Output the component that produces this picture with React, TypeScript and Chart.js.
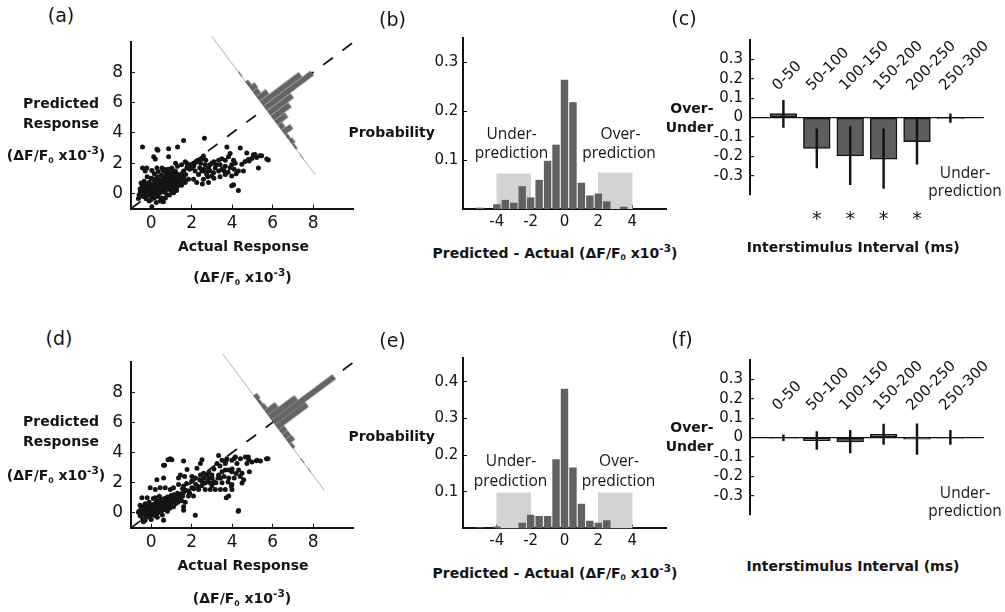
import React, { useEffect, useRef } from 'react';
import { Chart, registerables } from 'chart.js';

Chart.register(...registerables);

// ---------------- data ----------------
// (a) predicted vs actual response (x = actual, y = predicted), ΔF/F0 x10^-3
const scatterA: number[][] = [
  [-0.43, 3.07], [0.33, 2.86], [0.28, 2.93], [0.86, 2.96], [1.3, 3.07], [1.6, 3.5], [2.63, 3.65], [3.74, 3.07], [4.4, 3.0],
  [0.12, 2.43], [0.2, 2.28], [0.86, 2.43], [2.58, 2.47], [2.47, 2.32], [2.25, 2.15], [2.09, 2.0], [1.93, 1.9], [1.76, 2.0], [1.68, 2.1],
  [2.67, 1.9], [2.83, 1.69], [3.0, 2.0], [3.33, 2.2], [3.49, 2.3], [3.66, 2.2], [3.82, 2.43], [3.9, 2.64], [4.07, 2.2], [4.15, 2.0],
  [3.98, 1.9], [3.66, 1.8], [3.41, 1.9], [3.16, 1.69], [4.48, 1.94], [4.64, 2.11], [4.84, 2.15], [4.97, 2.32], [5.13, 2.58], [5.21, 2.37],
  [5.46, 2.5], [5.79, 2.22], [5.3, 1.69], [4.56, 1.48], [4.31, 1.48], [3.98, 1.15], [4.07, 0.58], [3.98, 0.51], [4.31, 0.19],
  [3.66, 1.26], [3.33, 1.48], [3.08, 1.37], [3.0, 1.15], [2.75, 1.26], [2.5, 1.48], [2.34, 1.26], [2.17, 1.48], [2.0, 1.69], [1.76, 1.69],
  [1.6, 1.48], [1.52, 1.15], [1.35, 1.26], [1.19, 1.48], [1.02, 1.69], [0.86, 1.37], [0.69, 1.58], [0.53, 1.69], [0.28, 1.69], [0.03, 1.52],
  [-0.22, 1.69], [-0.43, 1.69], [-0.3, 1.48], [2.58, 0.94], [2.83, 0.73], [2.53, 0.62], [2.25, 0.73], [2.09, 0.94], [1.84, 0.94], [1.68, 0.73],
  [1.43, 0.83], [1.19, 0.51], [0.94, 0.41], [0.69, 0.09], [0.53, -0.45], [0.03, -0.24], [-0.3, -0.13], [-0.54, 0.09], [-0.63, -0.34],
  [0.03, -0.87], [0.6, -0.55], [5.05, 2.56], [4.72, 2.67], [4.8, 2.24], [5.38, 2.5], [5.71, 2.28],
  [1.8, 1.8], [1.9, 1.6], [2.1, 1.8], [2.2, 2.05], [2.35, 2.2], [2.45, 2.0], [2.6, 2.3], [2.7, 2.2], [2.4, 1.7], [2.6, 1.6], [2.9, 1.9],
  [3.1, 2.1], [3.2, 1.9], [3.5, 1.6], [3.6, 1.5], [3.8, 1.4], [3.9, 1.7], [4.1, 1.6], [4.2, 1.3], [3.4, 1.1], [3.1, 1.0], [2.8, 1.1],
  [2.7, 1.4], [2.9, 1.5], [1.5, 1.9], [1.3, 1.8], [1.2, 2.0], [1.1, 1.2], [1.0, 1.0], [1.3, 0.9],
  [-0.55, 0.3], [-0.5, 0.0], [-0.45, 0.5], [-0.4, -0.2], [-0.38, 0.2], [-0.35, 0.8], [-0.3, 0.35], [-0.28, 0.05], [-0.25, -0.35],
  [-0.22, 0.6], [-0.2, 0.15], [-0.18, 0.4], [-0.15, -0.1], [-0.12, 0.25], [-0.1, 0.75], [-0.08, 0.5], [-0.05, 0.0], [-0.03, 0.3],
  [0.0, -0.4], [0.0, 0.15], [0.02, 0.45], [0.05, 0.6], [0.05, -0.15], [0.08, 0.25], [0.1, 0.95], [0.1, 0.05], [0.12, 0.4], [0.15, 0.7],
  [0.15, -0.3], [0.18, 0.2], [0.2, 0.5], [0.2, 0.0], [0.22, 0.35], [0.25, 0.8], [0.25, -0.1], [0.28, 0.55], [0.3, 0.15], [0.3, 1.1],
  [0.32, 0.4], [0.35, 0.65], [0.35, -0.2], [0.38, 0.25], [0.4, 0.9], [0.4, 0.5], [0.42, 0.05], [0.45, 0.35], [0.48, 0.7], [0.5, 1.2],
  [0.5, 0.2], [0.52, -0.3], [0.55, 0.55], [0.55, 0.9], [0.58, 0.3], [0.6, 0.75], [0.62, 0.1], [0.65, 1.0], [0.65, 0.45], [0.68, 0.6],
  [0.7, 0.25], [0.72, 1.3], [0.75, 0.8], [0.75, 0.4], [0.78, -0.1], [0.8, 0.6], [0.82, 1.05], [0.85, 0.3], [0.88, 0.85], [0.9, 0.5],
  [0.92, 1.2], [0.95, 0.7], [0.98, 0.2], [1.0, 0.95], [1.02, 0.55], [1.05, 1.4], [1.08, 0.8], [1.1, 0.35], [1.12, 1.1], [1.15, 0.65],
  [1.2, 0.9], [1.25, 1.3], [1.28, 0.45], [1.3, 1.05], [1.35, 0.7], [1.4, 1.2], [1.45, 0.95], [1.5, 0.55], [1.55, 1.35], [1.6, 1.0],
  [1.65, 0.8], [1.7, 1.25], [0.15, 1.3], [0.0, 1.0], [-0.2, 1.1], [0.35, 1.45], [0.6, 1.5], [0.85, 1.6], [-0.5, 0.7], [-0.6, -0.1],
  [0.45, -0.5], [0.7, -0.3], [0.25, -0.6], [-0.1, -0.5], [0.9, -0.1], [1.1, 0.05], [1.25, 0.2],
  [-0.42, 0.35], [-0.33, 0.55], [-0.15, 0.3], [-0.05, 0.6], [0.07, 0.35], [0.13, 0.15], [0.24, 0.45], [0.27, 0.25], [0.36, 0.1],
  [0.43, 0.6], [0.46, 0.15], [0.57, 0.4], [0.6, 0.6], [0.67, 0.3], [0.73, 0.55], [0.8, 0.35], [0.83, 0.75], [0.93, 0.45], [0.97, 0.9],
  [1.05, 0.3], [1.18, 0.75], [1.33, 0.55], [0.18, 0.85], [0.4, 0.75], [0.62, 0.9], [0.1, 0.6], [-0.25, 0.45], [0.32, -0.05],
];

// (d) predicted vs actual response after the model change
const scatterD: number[][] = [
  [0.83, 3.52], [1.02, 3.52], [0.66, 3.16], [1.6, 3.44], [2.51, 3.52], [2.43, 3.27], [2.26, 2.95], [1.77, 2.88], [1.44, 2.51], [1.35, 2.3],
  [1.65, 2.41], [2.01, 2.41], [2.18, 2.3], [2.43, 2.51], [2.59, 2.62], [2.76, 2.51], [2.84, 2.3], [3.0, 2.51], [3.09, 2.08], [2.92, 1.98],
  [2.67, 1.98], [2.51, 2.08], [3.25, 3.27], [3.5, 3.48], [3.66, 3.27], [3.74, 3.59], [3.99, 3.48], [4.16, 3.7], [4.41, 3.59], [4.65, 3.7],
  [4.82, 3.52], [4.98, 3.37], [5.23, 3.48], [5.4, 3.44], [5.77, 3.59], [4.73, 3.27], [4.24, 3.27], [3.83, 2.84], [3.99, 2.73], [3.66, 2.84],
  [3.5, 2.73], [3.33, 2.51], [3.83, 2.3], [4.32, 2.84], [4.49, 2.62], [4.85, 2.73], [4.57, 2.19], [4.49, 1.98], [3.99, 1.87], [3.42, 2.3],
  [3.66, 1.55], [3.99, 1.55], [3.96, 1.77], [3.71, 1.0], [4.32, 0.15], [2.18, -0.17], [3.42, 1.55], [3.17, 1.55], [2.92, 1.55], [2.67, 1.55],
  [2.34, 1.55], [2.01, 1.66], [1.84, 1.44], [1.6, 1.77], [1.35, 1.87], [1.1, 1.66], [0.94, 1.55], [0.69, 1.66], [0.44, 1.66], [0.2, 1.55],
  [-0.05, 1.66], [0.28, 2.19], [0.61, 2.3], [0.2, 1.0], [-0.2, 1.0], [-0.46, 1.0], [1.68, 0.69], [1.6, 0.39], [1.35, 0.8], [1.1, 0.9],
  [1.84, 1.12], [2.09, 1.12], [1.6, 0.17], [0.61, -0.5], [-0.63, 0.04], [-0.39, -0.6], [0.61, 3.16], [0.94, 3.59], [3.33, 3.8],
  [3.7, 3.45], [4.1, 3.6], [4.8, 3.7], [5.2, 3.45], [5.7, 3.59], [3.83, 1.12], [4.3, 0.1],
  [1.7, 1.5], [1.9, 1.3], [2.1, 1.6], [2.2, 1.9], [2.3, 1.75], [2.4, 2.2], [2.0, 2.1], [1.75, 1.95], [1.55, 1.6], [2.5, 1.8], [2.6, 2.3],
  [2.8, 2.1], [3.0, 2.3], [3.2, 2.0], [3.3, 2.3], [3.5, 2.0], [3.6, 2.4], [3.8, 2.05], [4.1, 2.3], [4.2, 2.6], [4.4, 2.4], [4.0, 2.9],
  [3.0, 1.8], [2.85, 2.7], [3.1, 2.9], [3.4, 3.1],
  [-0.6, 0.1], [-0.55, -0.2], [-0.5, 0.25], [-0.45, 0.05], [-0.42, -0.4], [-0.4, 0.4], [-0.35, -0.1], [-0.32, 0.15], [-0.3, -0.5],
  [-0.28, 0.3], [-0.25, 0.0], [-0.22, -0.25], [-0.2, 0.2], [-0.18, 0.5], [-0.15, -0.05], [-0.12, 0.1], [-0.1, 0.35], [-0.08, -0.3],
  [-0.05, 0.05], [-0.03, 0.25], [0.0, -0.15], [0.0, 0.45], [0.03, 0.1], [0.05, 0.3], [0.07, -0.05], [0.1, 0.2], [0.1, 0.55], [0.12, 0.0],
  [0.15, 0.4], [0.18, 0.15], [0.2, -0.2], [0.2, 0.3], [0.22, 0.65], [0.25, 0.1], [0.28, 0.45], [0.3, 0.25], [0.3, 0.8], [0.32, 0.0],
  [0.35, 0.35], [0.38, 0.55], [0.4, 0.15], [0.42, 0.7], [0.45, 0.3], [0.48, 0.45], [0.5, 0.1], [0.5, 0.9], [0.52, 0.6], [0.55, 0.35],
  [0.58, 0.75], [0.6, 0.2], [0.62, 0.5], [0.65, 0.95], [0.68, 0.4], [0.7, 0.65], [0.72, 0.25], [0.75, 0.8], [0.78, 0.5], [0.8, 1.05],
  [0.82, 0.35], [0.85, 0.7], [0.88, 0.55], [0.9, 0.9], [0.92, 0.3], [0.95, 0.75], [0.98, 1.15], [1.0, 0.5], [1.02, 0.85], [1.05, 0.65],
  [1.08, 1.0], [1.1, 0.4], [1.12, 1.2], [1.15, 0.8], [1.2, 0.6], [1.22, 1.05], [1.25, 0.9], [1.3, 1.3], [1.32, 0.7], [1.38, 1.1],
  [1.42, 0.95], [1.48, 1.25], [1.5, 0.8], [1.55, 1.1], [1.6, 1.35], [0.3, -0.3], [0.55, -0.15], [0.8, 0.1], [-0.1, 0.7], [0.1, 0.95],
  [0.4, 1.1], [-0.3, 0.6], [0.0, -0.45], [-0.55, 0.5],
  [-0.38, 0.0], [-0.2, -0.1], [-0.05, 0.4], [0.08, 0.15], [0.17, 0.5], [0.26, 0.3], [0.36, 0.6], [0.44, 0.4], [0.53, 0.25],
  [0.57, 0.55], [0.66, 0.7], [0.74, 0.45], [0.86, 0.85], [0.96, 0.6], [1.06, 0.85], [1.18, 1.0], [0.33, 0.15], [0.15, -0.1],
];

// residual histograms (predicted - actual), bin centres and probabilities
const residBinsB = [-5, -4, -3.5, -3, -2.5, -2, -1.5, -1, -0.5, 0, 0.5, 1, 1.5, 2, 2.5, 3.5];
const residProbB = [0.002, 0.009, 0.018, 0.012, 0.046, 0.023, 0.059, 0.098, 0.131, 0.264, 0.218, 0.053, 0.027, 0.031, 0.015, 0.004];
const residBinsE = [-5, -4, -2.5, -2, -1.5, -1, -0.5, 0, 0.5, 1, 1.5, 2, 2.5];
const residProbE = [0.002, 0.004, 0.014, 0.036, 0.033, 0.033, 0.188, 0.38, 0.165, 0.066, 0.02, 0.014, 0.021];

// shaded under/over-prediction zones
const zoneStart = [-4, 2];
const zoneEnd = [-2, 4];
const zoneHeightB = [0.072, 0.074];
const zoneHeightE = [0.097, 0.097];

// over-under by interstimulus interval
const isiCategories = ['0-50', '50-100', '100-150', '150-200', '200-250', '250-300'];
const overUnderC = [0.02, -0.159, -0.198, -0.215, -0.125, -0.005];
const errLowC = [-0.051, -0.26, -0.347, -0.366, -0.241, -0.026];
const errHighC = [0.089, -0.059, -0.047, -0.059, -0.008, 0.019];
const significantC = [false, true, true, true, true, false];
const overUnderF = [-0.003, -0.016, -0.023, 0.017, -0.009, -0.003];
const errLowF = [-0.016, -0.061, -0.079, -0.036, -0.087, -0.036];
const errHighF = [0.014, 0.03, 0.037, 0.069, 0.07, 0.037];

// axes
const scatterRange = [-1, 10];
const scatterTicks = [0, 2, 4, 6, 8];
const residRange = [-6, 6];
const residTicks = [-4, -2, 0, 2, 4];
const probMaxB = 0.35;
const probTicksB = [0.1, 0.2, 0.3];
const probMaxE = 0.466;
const probTicksE = [0.1, 0.2, 0.3, 0.4];
const overUnderRange = [-0.4, 0.4];
const overUnderTicks = [0.3, 0.2, 0.1, 0, -0.1, -0.2, -0.3];
// rotated residual histograms drawn inside (a) and (d)
const insetCrossA = 5.6;
const insetCrossD = 6.0;
const insetResidRangeA = [-6.9, 7.4];
const insetResidRangeD = [-7.1, 7.1];

// ---------------- geometry / style ----------------
const INK = '#141414';
const FONT = 'DejaVu Sans';
const BAR_GRAY = '#616161';
const ZONE_GRAY = '#d3d3d3';

type Rect = { l: number; t: number; r: number; b: number };
type Geom = { area: Rect; box: Rect };

const G_A: Geom = { area: { l: 131, t: 36.75, r: 353.5, b: 208.6 }, box: { l: 90, t: 20, r: 362, b: 240 } };
const G_D: Geom = { area: { l: 131, t: 357.3, r: 353.5, b: 527.8 }, box: { l: 90, t: 340, r: 362, b: 560 } };
const G_B: Geom = { area: { l: 463, t: 38, r: 666, b: 209 }, box: { l: 420, t: 20, r: 676, b: 240 } };
const G_E: Geom = { area: { l: 463, t: 356.7, r: 666, b: 528.3 }, box: { l: 420, t: 340, r: 676, b: 560 } };
const G_C: Geom = { area: { l: 750, t: 38, r: 983.8, b: 208.6 }, box: { l: 705, t: 20, r: 995, b: 215 } };
const G_F: Geom = { area: { l: 750, t: 356.7, r: 983.8, b: 528.3 }, box: { l: 705, t: 340, r: 995, b: 535 } };

const INSET_W = 90;

function frame(g: Geom, hasX = true) {
  return {
    yW: g.area.l - g.box.l,
    xH: hasX ? g.box.b - g.area.b : 0,
    padT: g.area.t - g.box.t,
    padR: g.box.r - g.area.r,
    padB: hasX ? 0 : g.box.b - g.area.b,
  };
}

function common(f: any) {
  return {
    responsive: false,
    maintainAspectRatio: false,
    animation: false,
    events: [],
    layout: { autoPadding: false, padding: { top: f.padT, right: f.padR, bottom: f.padB, left: 0 } },
    plugins: { legend: { display: false }, tooltip: { enabled: false }, title: { display: false } },
  };
}

const tickGrid = () => ({ display: true, drawOnChartArea: false, drawTicks: true, tickLength: -4, color: INK, lineWidth: 1, offset: false });
const axisBorder = () => ({ display: true, color: INK, width: 2 });
const setTicks = (vals: number[]) => (s: any) => { s.ticks = vals.map((v) => ({ value: v })); };
const tickFont = (size: number, padding: number) => ({
  font: { family: FONT, size }, color: INK, padding, maxRotation: 0, minRotation: 0, autoSkip: false,
  callback: (v: any) => String(v),
});

function scatterConfig(points: number[][], g: Geom): any {
  const f = frame(g);
  return {
    type: 'scatter',
    data: {
      datasets: [
        { data: points.map(([x, y]) => ({ x, y })), pointRadius: 2.5, pointHoverRadius: 2.5, backgroundColor: INK, borderWidth: 0 },
        {
          type: 'line', data: scatterRange.map((v) => ({ x: v, y: v })), borderColor: INK, borderWidth: 1.8,
          borderDash: [12, 12], pointRadius: 0, fill: false, tension: 0,
        },
      ],
    },
    options: {
      ...common(f),
      scales: {
        x: {
          type: 'linear', min: scatterRange[0], max: scatterRange[1],
          afterBuildTicks: setTicks(scatterTicks), afterFit: (s: any) => { s.height = f.xH; },
          grid: tickGrid(), border: axisBorder(), ticks: tickFont(17, 8.5),
        },
        y: {
          type: 'linear', min: scatterRange[0], max: scatterRange[1],
          afterBuildTicks: setTicks(scatterTicks), afterFit: (s: any) => { s.width = f.yW; },
          grid: tickGrid(), border: axisBorder(), ticks: tickFont(17, 12),
        },
      },
    },
  };
}

function histConfig(bins: number[], probs: number[], zoneH: number[], yMax: number, yTicks: number[], g: Geom): any {
  const f = frame(g);
  const ppu = (g.area.r - g.area.l) / (residRange[1] - residRange[0]);
  return {
    type: 'bar',
    data: {
      datasets: [
        { data: bins.map((x, i) => ({ x, y: probs[i] })), backgroundColor: BAR_GRAY, borderWidth: 0, barThickness: ppu * 0.4, grouped: false },
        {
          data: zoneStart.map((s, i) => ({ x: (s + zoneEnd[i]) / 2, y: zoneH[i] })), backgroundColor: ZONE_GRAY,
          borderWidth: 0, barThickness: ppu * (zoneEnd[0] - zoneStart[0]), grouped: false,
        },
      ],
    },
    options: {
      ...common(f),
      scales: {
        x: {
          type: 'linear', min: residRange[0], max: residRange[1], offset: false,
          afterBuildTicks: setTicks(residTicks), afterFit: (s: any) => { s.height = f.xH; },
          grid: tickGrid(), border: axisBorder(), ticks: tickFont(15, 8),
        },
        y: {
          type: 'linear', min: 0, max: yMax,
          afterBuildTicks: setTicks(yTicks), afterFit: (s: any) => { s.width = f.yW; },
          grid: tickGrid(), border: axisBorder(), ticks: tickFont(15, 8.7),
        },
      },
    },
  };
}

function overUnderConfig(means: number[], lo: number[], hi: number[], g: Geom): any {
  const f = frame(g, false);
  const pitch = (g.area.r - g.area.l) / (isiCategories.length + 1);
  return {
    type: 'bar',
    data: {
      labels: ['', ...isiCategories, ''],
      datasets: [
        { data: [null, ...lo.map((l, i) => [l, hi[i]]), null], backgroundColor: INK, borderWidth: 0, barThickness: 1.8, grouped: false },
        {
          data: [null, ...means, null], backgroundColor: '#5e5e5e', borderColor: INK, borderWidth: 1.5,
          borderSkipped: false, barThickness: pitch * 0.8, grouped: false,
        },
      ],
    },
    options: {
      ...common(f),
      scales: {
        x: { display: false, offset: false, grid: { offset: false } },
        y: {
          type: 'linear', min: overUnderRange[0], max: overUnderRange[1],
          afterBuildTicks: setTicks(overUnderTicks), afterFit: (s: any) => { s.width = f.yW; },
          grid: {
            display: true, drawOnChartArea: true, drawTicks: true, tickLength: -4, lineWidth: 1.2, tickColor: INK,
            color: (ctx: any) => (ctx.tick && ctx.tick.value === 0 ? INK : 'rgba(0,0,0,0)'),
          },
          border: axisBorder(), ticks: tickFont(15, 11),
        },
      },
    },
  };
}

function makeInset(main: any, g: Geom, wrap: HTMLDivElement, canvas: HTMLCanvasElement,
  bins: number[], probs: number[], cross: number, rRange: number[], probPx: number) {
  const xs = main.scales.x;
  const ys = main.scales.y;
  const sx = xs.getPixelForValue(1) - xs.getPixelForValue(0);
  const sy = ys.getPixelForValue(0) - ys.getPixelForValue(1);
  const n = Math.hypot(sx, sy);
  const pxPerR = n / (sx / sy + sy / sx);
  const H = Math.round((rRange[1] - rRange[0]) * pxPerR);
  const rMin = rRange[0];
  const rMax = rMin + H / pxPerR;
  const zeroY = rMax * pxPerR;
  canvas.width = INSET_W;
  canvas.height = H;
  canvas.style.width = INSET_W + 'px';
  canvas.style.height = H + 'px';
  const cx = g.box.l + xs.getPixelForValue(cross);
  const cy = g.box.t + ys.getPixelForValue(cross);
  const ang = (Math.atan2(sy, sx) * 180) / Math.PI;
  Object.assign(wrap.style, {
    left: `${cx - 1}px`, top: `${cy - zeroY}px`, width: `${INSET_W}px`, height: `${H}px`,
    transformOrigin: `1px ${zeroY}px`, transform: `rotate(${-ang}deg)`,
  });
  return new Chart(canvas, {
    type: 'bar',
    data: { datasets: [{ data: bins.map((r, i) => ({ x: probs[i], y: r })), backgroundColor: '#646464', borderWidth: 0, barThickness: 5.2 }] },
    options: {
      indexAxis: 'y',
      responsive: false, maintainAspectRatio: false, animation: false, events: [],
      layout: { autoPadding: false, padding: 0 },
      plugins: { legend: { display: false }, tooltip: { enabled: false } },
      scales: {
        y: {
          type: 'linear', min: rMin, max: rMax, offset: false, afterFit: (s: any) => { s.width = 1; },
          ticks: { display: false }, grid: { display: false, drawTicks: false }, border: { display: true, color: '#bdbdbd', width: 1 },
        },
        x: { type: 'linear', min: 0, max: (INSET_W - 1) / probPx, display: false },
      },
    } as any,
  } as any);
}

// ---------------- text helpers ----------------
const Txt = ({ x, y, size = 14, bold = false, family = FONT, anchor = 'center', children }: any) => (
  <div
    style={{
      position: 'absolute', left: x, top: y, whiteSpace: 'nowrap', lineHeight: 1, fontSize: size,
      fontFamily: family, fontWeight: bold ? 700 : 400, color: INK,
      transform: anchor === 'right' ? 'translate(-100%,-50%)' : 'translate(-50%,-50%)',
    }}
  >
    {children}
  </div>
);

const DeltaUnit = () => (
  <>
    (ΔF/F<span style={{ fontSize: '0.55em', position: 'relative', top: '0.35em' }}>0</span> x10
    <span style={{ fontSize: '0.75em', position: 'relative', top: '-0.55em' }}>-3</span>)
  </>
);

function IsiLabels({ g }: { g: Geom }) {
  const pitch = (g.area.r - g.area.l) / (isiCategories.length + 1);
  const zeroY = (g.area.t + g.area.b) / 2;
  return (
    <>
      {isiCategories.map((c, i) => (
        <div
          key={c}
          style={{
            position: 'absolute', left: g.area.l + (i + 1) * pitch - 3, top: zeroY - 30 - 15, height: 15,
            lineHeight: '15px', fontSize: 15, fontFamily: FONT, color: INK, whiteSpace: 'nowrap',
            transformOrigin: '0 100%', transform: 'rotate(-45deg)',
          }}
        >
          {c}
        </div>
      ))}
    </>
  );
}

function Stars({ g, sig, y }: { g: Geom; sig: boolean[]; y: number }) {
  const pitch = (g.area.r - g.area.l) / (isiCategories.length + 1);
  return (
    <>
      {sig.map((s, i) => (s ? <Txt key={i} x={g.area.l + (i + 1) * pitch} y={y} size={19}>*</Txt> : null))}
    </>
  );
}

const cv = (g: Geom, ref: any) => (
  <canvas
    ref={ref}
    width={g.box.r - g.box.l}
    height={g.box.b - g.box.t}
    style={{ position: 'absolute', left: g.box.l, top: g.box.t, width: g.box.r - g.box.l, height: g.box.b - g.box.t }}
  />
);

export default function App() {
  const rA = useRef<HTMLCanvasElement>(null);
  const rB = useRef<HTMLCanvasElement>(null);
  const rC = useRef<HTMLCanvasElement>(null);
  const rD = useRef<HTMLCanvasElement>(null);
  const rE = useRef<HTMLCanvasElement>(null);
  const rF = useRef<HTMLCanvasElement>(null);
  const wA = useRef<HTMLDivElement>(null);
  const wD = useRef<HTMLDivElement>(null);
  const iA = useRef<HTMLCanvasElement>(null);
  const iD = useRef<HTMLCanvasElement>(null);

  useEffect(() => {
    const charts: any[] = [];
    const a = new Chart(rA.current!, scatterConfig(scatterA, G_A));
    charts.push(a);
    charts.push(makeInset(a, G_A, wA.current!, iA.current!, residBinsB, residProbB, insetCrossA, insetResidRangeA, 222));
    const d = new Chart(rD.current!, scatterConfig(scatterD, G_D));
    charts.push(d);
    charts.push(makeInset(d, G_D, wD.current!, iD.current!, residBinsE, residProbE, insetCrossD, insetResidRangeD, 200));
    charts.push(new Chart(rB.current!, histConfig(residBinsB, residProbB, zoneHeightB, probMaxB, probTicksB, G_B)));
    charts.push(new Chart(rE.current!, histConfig(residBinsE, residProbE, zoneHeightE, probMaxE, probTicksE, G_E)));
    charts.push(new Chart(rC.current!, overUnderConfig(overUnderC, errLowC, errHighC, G_C)));
    charts.push(new Chart(rF.current!, overUnderConfig(overUnderF, errLowF, errHighF, G_F)));
    return () => charts.forEach((c) => c.destroy());
  }, []);

  return (
    <div style={{ position: 'fixed', left: 0, top: 0, width: 1005, height: 612, background: '#fff', overflow: 'hidden' }}>
      {cv(G_A, rA)}
      {cv(G_D, rD)}
      {cv(G_B, rB)}
      {cv(G_E, rE)}
      {cv(G_C, rC)}
      {cv(G_F, rF)}
      <div ref={wA} style={{ position: 'absolute' }}><canvas ref={iA} style={{ display: 'block' }} /></div>
      <div ref={wD} style={{ position: 'absolute' }}><canvas ref={iD} style={{ display: 'block' }} /></div>

      {/* panel (a) */}
      <Txt x={61} y={15} size={19}>(a)</Txt>
      <Txt x={61} y={102.5} bold>Predicted</Txt>
      <Txt x={61} y={122.5} bold>Response</Txt>
      <Txt x={56} y={155} bold><DeltaUnit /></Txt>
      <Txt x={243.5} y={245.5} bold>Actual Response</Txt>
      <Txt x={242.5} y={277} bold><DeltaUnit /></Txt>

      {/* panel (d) */}
      <Txt x={59} y={338} size={19}>(d)</Txt>
      <Txt x={61} y={421} bold>Predicted</Txt>
      <Txt x={61} y={441} bold>Response</Txt>
      <Txt x={56} y={475} bold><DeltaUnit /></Txt>
      <Txt x={243} y={564.5} bold>Actual Response</Txt>
      <Txt x={242} y={598} bold><DeltaUnit /></Txt>

      {/* panel (b) */}
      <Txt x={392.5} y={18.5} size={19}>(b)</Txt>
      <Txt x={391.7} y={131.7} bold>Probability</Txt>
      <Txt x={555} y={252.5} bold>Predicted - Actual <DeltaUnit /></Txt>
      <Txt x={511.7} y={133.5} size={15.5} family="Open Sans">Under-</Txt>
      <Txt x={511.5} y={153} size={15.5} family="Open Sans">prediction</Txt>
      <Txt x={620.5} y={133.5} size={15.5} family="Open Sans">Over-</Txt>
      <Txt x={619} y={153} size={15.5} family="Open Sans">prediction</Txt>

      {/* panel (e) */}
      <Txt x={392.5} y={340} size={19}>(e)</Txt>
      <Txt x={391.7} y={436} bold>Probability</Txt>
      <Txt x={555} y={572.5} bold>Predicted - Actual <DeltaUnit /></Txt>
      <Txt x={511} y={461} size={15.5} family="Open Sans">Under-</Txt>
      <Txt x={510.5} y={481} size={15.5} family="Open Sans">prediction</Txt>
      <Txt x={619} y={461} size={15.5} family="Open Sans">Over-</Txt>
      <Txt x={618.5} y={481} size={15.5} family="Open Sans">prediction</Txt>

      {/* panel (c) */}
      <Txt x={684} y={18} size={19}>(c)</Txt>
      <Txt x={713.5} y={108} bold anchor="right">Over-</Txt>
      <Txt x={713.5} y={127} bold anchor="right">Under</Txt>
      <IsiLabels g={G_C} />
      <Stars g={G_C} sig={significantC} y={218} />
      <Txt x={965} y={172.5} size={15.5} family="Open Sans">Under-</Txt>
      <Txt x={965} y={191} size={15.5} family="Open Sans">prediction</Txt>
      <Txt x={853.3} y={246.7} bold>Interstimulus Interval (ms)</Txt>

      {/* panel (f) */}
      <Txt x={682} y={339} size={19}>(f)</Txt>
      <Txt x={713.5} y={427} bold anchor="right">Over-</Txt>
      <Txt x={713.5} y={446} bold anchor="right">Under</Txt>
      <IsiLabels g={G_F} />
      <Txt x={965} y={492.5} size={15.5} family="Open Sans">Under-</Txt>
      <Txt x={965} y={511} size={15.5} family="Open Sans">prediction</Txt>
      <Txt x={853} y={566} bold>Interstimulus Interval (ms)</Txt>
    </div>
  );
}
